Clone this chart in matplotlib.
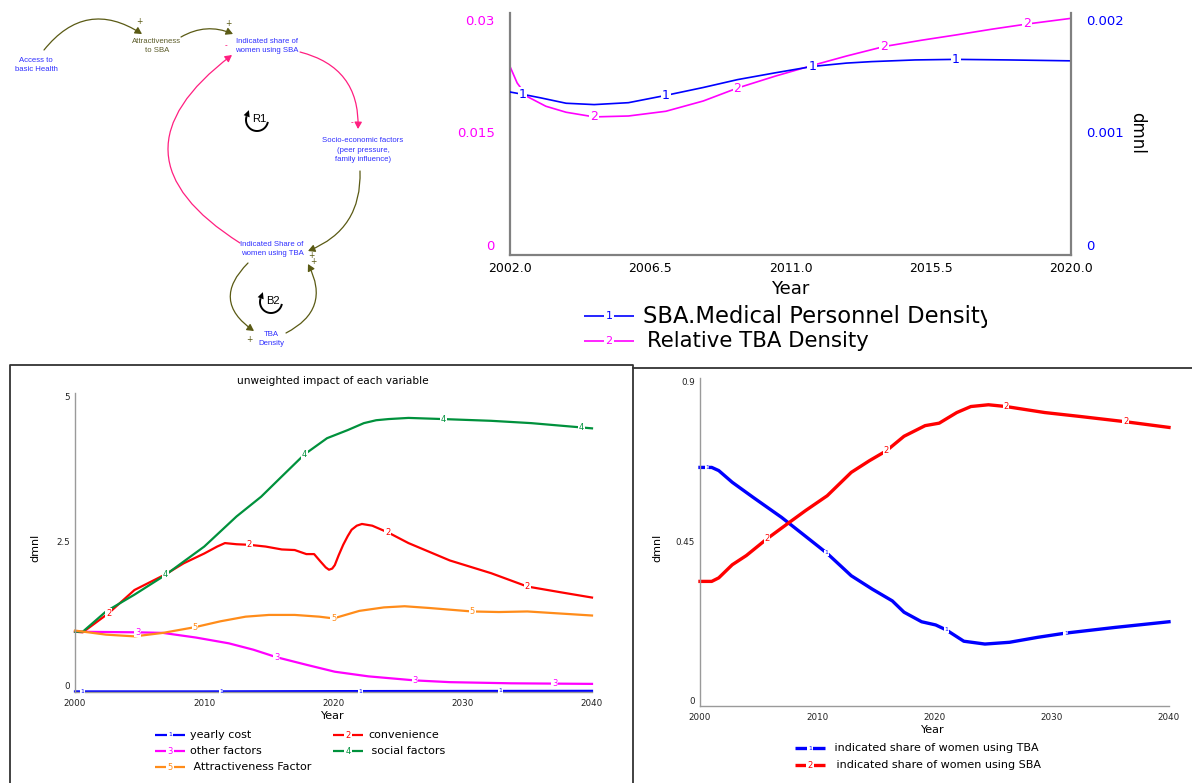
import numpy as np
import matplotlib
matplotlib.use("Agg")
import matplotlib.pyplot as plt
from matplotlib.patches import FancyArrowPatch, Polygon
from matplotlib.transforms import Bbox, blended_transform_factory, ScaledTranslation

# ---------------- data ----------------
# Density chart (2002-2020)
sba_years = [2002.0, 2002.4, 2003.0, 2003.8, 2004.7, 2005.8, 2007.0, 2008.2, 2009.3, 2010.5,
             2011.7, 2012.8, 2013.6, 2015.0, 2016.3, 2018.0, 2020.0]
sba_density = [0.00136, 0.00134, 0.001307, 0.00126, 0.001248, 0.001265, 0.00133, 0.00140,
               0.00147, 0.00153, 0.001587, 0.001617, 0.00163, 0.001645, 0.00165, 0.001645, 0.001637]
tba_years = [2002.0, 2002.23, 2002.55, 2003.15, 2003.8, 2004.7, 2005.8, 2007.0, 2008.2, 2009.3,
             2010.5, 2011.7, 2012.8, 2014.0, 2015.2, 2016.3, 2017.5, 2018.6, 2020.0]
tba_density = [0.0238, 0.0216, 0.0198, 0.0185, 0.0177, 0.01708, 0.0172, 0.01783, 0.0192, 0.02093,
               0.0225, 0.02394, 0.0252, 0.02646, 0.0273, 0.0280, 0.0288, 0.02947, 0.03022]

# Unweighted impact of each variable (2000-2040)
yc_years = [2000, 2010, 2020, 2030, 2040]
yearly_cost = [0.0, 0.0, 0.005, 0.008, 0.01]
conv_years = [2000, 2000.6, 2002.6, 2004.6, 2007.0, 2008.4, 2010.0, 2011.0, 2011.6, 2012.5, 2013.5,
              2014.75, 2016.0, 2017.0, 2017.9, 2018.5, 2019.0, 2019.4, 2019.65, 2019.9, 2020.1,
              2020.4, 2020.75, 2021.1, 2021.4, 2021.8, 2022.2, 2023.0, 2024.25, 2025.8, 2027.4,
              2029.0, 2032.2, 2035.0, 2037.6, 2040]
convenience = [1.03, 1.02, 1.35, 1.75, 2.02, 2.21, 2.38, 2.50, 2.56, 2.54, 2.53,
               2.50, 2.45, 2.44, 2.37, 2.37, 2.24, 2.14, 2.10, 2.12, 2.18,
               2.35, 2.53, 2.68, 2.79, 2.86, 2.89, 2.86, 2.74, 2.56, 2.41,
               2.26, 2.04, 1.81, 1.71, 1.62]
other_years = [2000, 2004.85, 2006.8, 2009.35, 2011.9, 2013.8, 2015.6, 2017.9, 2020.1, 2022.7,
               2026.3, 2029.0, 2033.75, 2040]
other_factors = [1.03, 1.02, 1.01, 0.93, 0.83, 0.72, 0.59, 0.46, 0.34, 0.26,
                 0.19, 0.16, 0.14, 0.13]
social_years = [2000, 2000.6, 2002.4, 2004.6, 2007.0, 2008.4, 2010.0, 2011.25, 2012.5, 2014.4,
                2016.0, 2017.75, 2019.5, 2021.1, 2022.35, 2023.3, 2024.25, 2025.8, 2028.5, 2032.2,
                2035.3, 2040]
social_factors = [1.03, 1.03, 1.38, 1.67, 2.01, 2.24, 2.50, 2.76, 3.02, 3.36,
                  3.71, 4.09, 4.37, 4.51, 4.63, 4.68, 4.70, 4.72, 4.70, 4.67,
                  4.63, 4.54]
attr_years = [2000, 2002.4, 2004.6, 2006.8, 2009.3, 2011.25, 2013.2, 2015.0, 2017.0, 2018.9,
              2020.0, 2022.0, 2023.9, 2025.5, 2027.4, 2030.7, 2032.8, 2035.0, 2040]
attractiveness = [1.05, 0.98, 0.95, 1.01, 1.11, 1.21, 1.29, 1.32, 1.32, 1.29,
                  1.26, 1.39, 1.45, 1.47, 1.44, 1.38, 1.37, 1.38, 1.31]

# Indicated shares (2000-2040)
share_years = [2000, 2001.0, 2001.6, 2002.75, 2004.55, 2006.95, 2008.75, 2010.85, 2012.9, 2014.7,
               2016.4, 2017.4, 2018.9, 2020.1, 2021.0, 2022.5, 2024.3, 2026.4, 2028.8, 2031.2,
               2035.4, 2040]
share_tba = [0.674, 0.674, 0.665, 0.632, 0.589, 0.533, 0.486, 0.431, 0.368, 0.330,
             0.297, 0.265, 0.238, 0.229, 0.215, 0.183, 0.175, 0.180, 0.194, 0.206,
             0.222, 0.238]
sba_share_years = [2000, 2001.0, 2001.6, 2002.75, 2003.95, 2005.7, 2007.55, 2009.0, 2010.85, 2012.9,
                   2014.45, 2015.9, 2017.4, 2019.2, 2020.4, 2021.9, 2023.1, 2024.6, 2026.1,
                   2029.4, 2032.4, 2036.3, 2040]
share_sba = [0.352, 0.352, 0.362, 0.399, 0.425, 0.472, 0.517, 0.552, 0.594, 0.660,
             0.693, 0.721, 0.762, 0.792, 0.799, 0.829, 0.846, 0.851, 0.846,
             0.829, 0.818, 0.803, 0.787]

# ---------------- figure ----------------
W, H = 1192, 783
plt.rcParams['font.family'] = ['DejaVu Sans']
fig = plt.figure(figsize=(W / 100, H / 100), dpi=100)


def px_axes(x0, y0, x1, y1):
    a = fig.add_axes([x0 / W, 1 - y1 / H, (x1 - x0) / W, (y1 - y0) / H])
    a.set_facecolor('none')
    return a


# canvas in pixel coordinates for the diagram, frames and legends
ax0 = fig.add_axes([0, 0, 1, 1])
ax0.set_xlim(0, W)
ax0.set_ylim(H, 0)
ax0.axis('off')

BLUE_T = '#2f2fff'
OLIVE = '#5a5a14'
PINK = '#ff1f80'
narrow = ['Liberation Sans Narrow', 'Liberation Sans', 'DejaVu Sans']


def tag(ax, xs, ys, at, text, color, fs):
    for a in at:
        ax.text(a, np.interp(a, xs, ys), text, color=color, fontsize=fs, ha='center',
                va='center', zorder=6, clip_on=False,
                bbox=dict(boxstyle='square,pad=0.08', fc='white', ec='none'))


def legend_key(x0, x1, y, num, color, lw, fs):
    ax0.plot([x0, x1], [y, y], color=color, lw=lw, solid_capstyle='butt')
    ax0.text((x0 + x1) / 2, y, num, color=color, fontsize=fs, ha='center', va='center',
             bbox=dict(boxstyle='square,pad=0.12', fc='white', ec='none'))


# ---------------- causal loop diagram ----------------
def node(x, y, text, color=BLUE_T):
    ax0.text(x, y, text, ha='center', va='center', color=color, fontsize=5.6,
             family=narrow, linespacing=1.55)


node(36, 65, 'Access to\nbasic Health')
node(157, 46, 'Attractiveness\nto SBA', color='#5c5c2a')
node(267, 46, 'Indicated share of\nwomen using SBA')
node(363, 150, 'Socio-economic factors\n(peer pressure,\nfamily influence)')
node(272, 249, 'Indicated Share of\nwomen using TBA')
node(271, 339, 'TBA\nDensity')


def link(p0, p1, rad, color):
    ax0.add_patch(FancyArrowPatch(p0, p1, connectionstyle=f'arc3,rad={rad}',
                                  arrowstyle='-|>,head_length=4,head_width=2.2',
                                  color=color, lw=0.9, shrinkA=0, shrinkB=0))


link((44, 50), (142, 34), -0.45, OLIVE)
link((181, 37), (233, 34), -0.25, OLIVE)
link((300, 52), (358, 129), -0.4, PINK)
link((360, 171), (308, 251), -0.35, OLIVE)
link((240, 243), (232, 55), -0.72, PINK)
link((248, 263), (254, 331), 0.6, OLIVE)
link((286, 333), (308, 264), 0.5, OLIVE)

for (x, y, s, c) in [(139, 22, '+', OLIVE), (228, 23, '+', OLIVE), (226, 46, '-', PINK),
                     (352, 123, '-', PINK), (311, 255, '+', OLIVE), (313, 262, '+', OLIVE),
                     (249, 339, '+', OLIVE)]:
    ax0.text(x, y, s, ha='center', va='center', color=c, fontsize=5.5)


def loop_mark(cx, cy, r, label):
    # circular arrow running clockwise from the right side, round the bottom,
    # up to the upper left where the head points upward
    th = np.radians(np.linspace(-10, -200, 80))
    xs = cx + r * np.cos(th)
    ys = cy - r * np.sin(th)
    ax0.plot(xs, ys, color='black', lw=1.4, solid_capstyle='butt')
    tx, ty = np.sin(th[-1]), np.cos(th[-1])
    nx, ny = -ty, tx
    L, w = 6.5, 3.2
    ex, ey = xs[-1], ys[-1]
    ax0.add_patch(Polygon([(ex + tx * L, ey + ty * L), (ex + nx * w, ey + ny * w),
                           (ex - nx * w, ey - ny * w)], closed=True, color='black', lw=0))
    ax0.text(cx + 2, cy - 1, label, ha='center', va='center', fontsize=8, family=narrow)


loop_mark(257, 120, 11, 'R1')
loop_mark(271, 302, 11, 'B2')

# ---------------- density chart ----------------
axd = px_axes(510, 13, 1071, 255)
axd2 = axd.twinx()
axd2.set_facecolor('none')
axd.plot(tba_years, tba_density, color='#ff00ff', lw=1.2)
axd2.plot(sba_years, sba_density, color='#0000ff', lw=1.2)
axd.set_xlim(2002, 2020)
axd.set_ylim(-0.001333, 0.030933)
axd2.set_ylim(-0.0000889, 0.0020622)
axd.set_xticks([2002, 2006.5, 2011, 2015.5, 2020])
axd.set_xticklabels(['2002.0', '2006.5', '2011.0', '2015.5', '2020.0'], fontsize=9)
axd.set_yticks([0, 0.015, 0.03])
axd.set_yticklabels(['0', '0.015', '0.03'], fontsize=9.5, color='#ff00ff')
axd2.set_yticks([0, 0.001, 0.002])
axd2.set_yticklabels(['0', '0.001', '0.002'], fontsize=9.5, color='#0000ff')
axd.tick_params(axis='x', length=0, pad=5)
axd.tick_params(axis='y', length=0, pad=11)
axd2.tick_params(axis='y', length=0, pad=11)
for a in (axd, axd2):
    for s in a.spines.values():
        s.set_visible(False)
for a, side in ((axd, 'left'), (axd, 'bottom'), (axd2, 'right')):
    a.spines[side].set_visible(True)
    a.spines[side].set_color('#808080')
    a.spines[side].set_linewidth(1.6)
tag(axd2, sba_years, sba_density, [2002.4, 2007.0, 2011.7, 2016.3], '1', '#0000ff', 9)
tag(axd, tba_years, tba_density, [2004.7, 2009.3, 2014.0, 2018.6], '2', '#ff00ff', 9)
fig.text(790 / W, 1 - 289 / H, 'Year', ha='center', va='center', fontsize=13)
fig.text(1137 / W, 1 - 133 / H, 'dmnl', ha='center', va='center', fontsize=12, rotation=-90)

legend_key(584, 634, 316, '1', '#0000ff', 1.2, 8)
t = ax0.text(643, 316, 'SBA.Medical Personnel Density', ha='left', va='center', fontsize=16.3)
t.set_clip_box(Bbox.from_extents(0, 0, 987, H))
t.set_clip_on(True)
legend_key(584, 634, 341, '2', '#ff00ff', 1.2, 8)
ax0.text(647, 341, 'Relative TBA Density', ha='left', va='center', fontsize=15.3)


# ---------------- helpers for the lower charts ----------------
def lower_axes(ax, yticks, ylabels):
    for s in ('top', 'right'):
        ax.spines[s].set_visible(False)
    for s in ('left', 'bottom'):
        ax.spines[s].set_color('#9a9a9a')
        ax.spines[s].set_linewidth(1.0)
    ax.set_xlim(2000, 2040)
    ax.set_xticks([2000, 2010, 2020, 2030, 2040])
    ax.set_xticklabels(['2000', '2010', '2020', '2030', '2040'], fontsize=6.3, color='#222222')
    ax.tick_params(axis='x', length=0, pad=5)
    ax.set_yticks([])
    tr = blended_transform_factory(ax.transAxes, ax.transData) + \
        ScaledTranslation(-0.05, 0.045, fig.dpi_scale_trans)
    for v, lab in zip(yticks, ylabels):
        ax.text(0, v, lab, transform=tr, ha='right', va='center', fontsize=6.3, color='#222222')


# ---------------- unweighted impact chart ----------------
ax0.plot([10, 10, 633, 633], [H + 5, 365, 365, H + 5], color='#333333', lw=1.3)
axi = px_axes(75, 393, 592, 692)
axi.set_ylim(-0.01, 5.15)
lower_axes(axi, [0, 2.5, 5], ['0', '2.5', '5'])
series = [(yc_years, yearly_cost, '#0000ff', '1', [2000.6, 2011.3, 2022.1, 2032.9]),
          (conv_years, convenience, '#ff0000', '2', [2002.6, 2013.5, 2024.2, 2035.0]),
          (other_years, other_factors, '#ff00ff', '3', [2004.85, 2015.6, 2026.3, 2037.1]),
          (social_years, social_factors, '#00913c', '4', [2007.0, 2017.75, 2028.5, 2039.2]),
          (attr_years, attractiveness, '#ff8c1a', '5', [2009.3, 2020.0, 2030.75])]
for xs, ys, c, n, at in series:
    axi.plot(xs, ys, color=c, lw=1.6, clip_on=False)
for xs, ys, c, n, at in series:
    tag(axi, xs, ys, at, n, c, 4.5 if n == '1' else 6)
fig.text(333 / W, 1 - 381 / H, 'unweighted impact of each variable', ha='center', va='center',
         fontsize=7.6)
fig.text(333 / W, 1 - 716 / H, 'Year', ha='center', va='center', fontsize=8)
fig.text(35 / W, 1 - 548 / H, 'dmnl', ha='center', va='center', fontsize=8, rotation=90)

legend_key(155, 185, 735, '1', '#0000ff', 1.6, 4.5)
ax0.text(190, 735, 'yearly cost', ha='left', va='center', fontsize=8)
legend_key(333, 363, 735, '2', '#ff0000', 1.6, 6)
ax0.text(368, 735, 'convenience', ha='left', va='center', fontsize=8)
legend_key(155, 185, 751, '3', '#ff00ff', 1.6, 6)
ax0.text(190, 751, 'other factors', ha='left', va='center', fontsize=8)
legend_key(333, 363, 751, '4', '#00913c', 1.6, 6)
ax0.text(368, 751, ' social factors', ha='left', va='center', fontsize=8)
legend_key(155, 185, 767, '5', '#ff8c1a', 1.6, 6)
ax0.text(190, 767, ' Attractiveness Factor', ha='left', va='center', fontsize=8)

# ---------------- indicated share chart ----------------
ax0.plot([633, W], [368, 368], color='#333333', lw=1.3)
axs = px_axes(700, 378, 1169, 706)
axs.set_ylim(0, 0.9266)
lower_axes(axs, [0, 0.45, 0.9], ['0', '0.45', '0.9'])
axs.plot(share_years, share_tba, color='#0000ff', lw=2.4, clip_on=False)
axs.plot(sba_share_years, share_sba, color='#ff0000', lw=2.4, clip_on=False)
tag(axs, share_years, share_tba, [2000.6, 2010.8, 2021.0, 2031.2], '1', '#0000ff', 4.5)
tag(axs, sba_share_years, share_sba, [2005.7, 2015.9, 2026.1, 2036.3], '2', '#ff0000', 6)
fig.text(933 / W, 1 - 730 / H, 'Year', ha='center', va='center', fontsize=8)
fig.text(657 / W, 1 - 548 / H, 'dmnl', ha='center', va='center', fontsize=8, rotation=90)

legend_key(795, 825, 748, '1', '#0000ff', 2.4, 4.5)
ax0.text(831, 748, ' indicated share of women using TBA', ha='left', va='center', fontsize=8)
legend_key(795, 825, 765, '2', '#ff0000', 2.4, 6)
ax0.text(833, 765, ' indicated share of women using SBA', ha='left', va='center', fontsize=8)

fig.savefig('out.png', dpi=100, facecolor='white')
